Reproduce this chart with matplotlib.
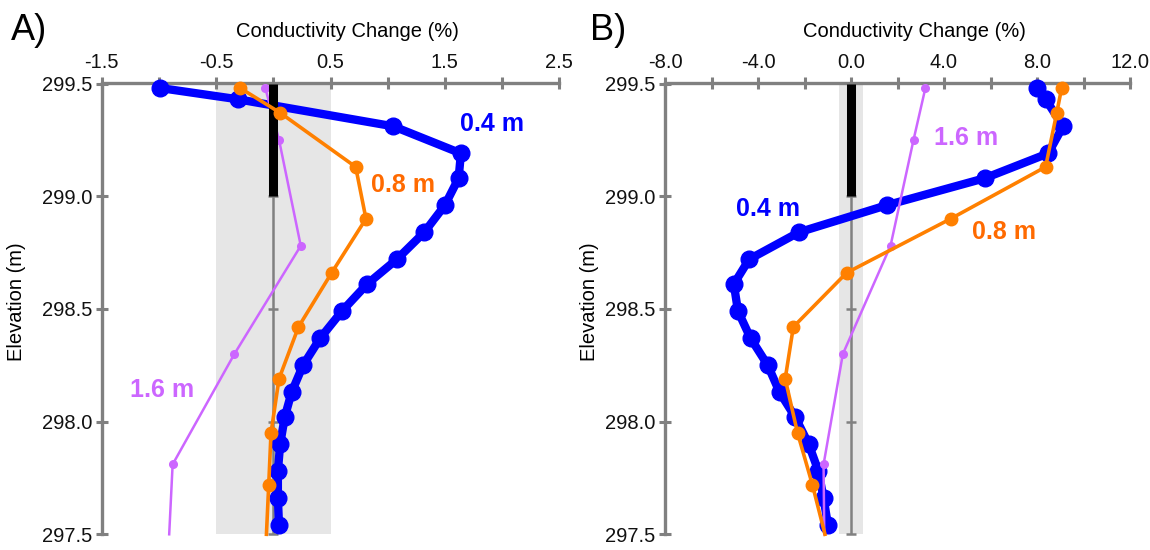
import matplotlib
matplotlib.use('Agg')
import matplotlib.pyplot as plt
from matplotlib.ticker import FixedLocator, NullFormatter
import numpy as np

plt.rcParams['font.family'] = ['Liberation Sans', 'DejaVu Sans']

# ---------------- data ----------------
elev_04 = [299.48, 299.43, 299.31, 299.19, 299.08, 298.96, 298.84, 298.72, 298.61,
           298.49, 298.37, 298.25, 298.13, 298.02, 297.90, 297.78, 297.66, 297.54]
elev_08 = [299.48, 299.37, 299.13, 298.90, 298.66, 298.42, 298.19, 297.95, 297.72, 297.50]
elev_16 = [299.48, 299.25, 298.78, 298.30, 297.81, 297.50]

a_04 = [-0.99, -0.31, 1.05, 1.64, 1.62, 1.50, 1.32, 1.08, 0.82,
        0.60, 0.41, 0.26, 0.16, 0.10, 0.06, 0.04, 0.04, 0.05]
a_08 = [-0.29, 0.06, 0.72, 0.81, 0.51, 0.22, 0.05, -0.02, -0.04, -0.06]
a_16 = [-0.07, 0.05, 0.24, -0.34, -0.88, -0.91]

b_04 = [8.00, 8.37, 9.12, 8.48, 5.76, 1.54, -2.24, -4.38, -5.04,
        -4.86, -4.32, -3.58, -3.07, -2.40, -1.82, -1.40, -1.18, -0.99]
b_08 = [9.06, 8.85, 8.37, 4.29, -0.19, -2.48, -2.83, -2.30, -1.66, -1.12]
b_16 = [3.20, 2.69, 1.70, -0.35, -1.18, -1.15]

a_xticks_major = [-1.5, -0.5, 0.5, 1.5, 2.5]
a_xticks_minor = [-1.0, 0.0, 1.0, 2.0]
a_xlabels = ['-1.5', '-0.5', '0.5', '1.5', '2.5']
b_xticks_major = [-8.0, -4.0, 0.0, 4.0, 8.0, 12.0]
b_xticks_minor = [-6.0, -2.0, 2.0, 6.0, 10.0]
b_xlabels = ['-8.0', '-4.0', '0.0', '4.0', '8.0', '12.0']
yticks = [297.5, 298.0, 298.5, 299.0, 299.5]
ylabels = ['297.5', '298.0', '298.5', '299.0', '299.5']

a_band = [-0.5, 0.5]
b_band = [-0.5, 0.5]
bar_range = [299.0, 299.5]

series_labels = ['0.4 m', '0.8 m', '1.6 m']
a_label_pos = [(1.91, 299.32), (1.13, 299.05), (-0.97, 298.14)]
b_label_pos = [(-3.58, 298.945), (6.56, 298.84), (4.96, 299.26)]

# ---------------- style ----------------
BLUE = '#0000ff'
ORANGE = '#ff8000'
ORANGE_TXT = '#ff6a00'
PURPLE = '#cc66ff'
GRAY = '#808080'

W, H = 1150, 550
fig = plt.figure(figsize=(W / 100, H / 100), dpi=100)


def px(l, t, r, b):
    return [l / W, 1 - b / H, (r - l) / W, (b - t) / H]


def panel(rect, xlim, xmaj, xmin, xlab, band, d04, d08, d16, lpos, letter, letter_x, elev_x):
    ax = fig.add_axes(rect)
    ax.set_xlim(*xlim)
    ax.set_ylim(yticks[0], yticks[-1])
    for s in ['bottom', 'right']:
        ax.spines[s].set_visible(False)
    for s in ['top', 'left']:
        ax.spines[s].set_color(GRAY)
        ax.spines[s].set_linewidth(2.4)
    ax.xaxis.tick_top()
    ax.xaxis.set_major_locator(FixedLocator(xmaj))
    ax.xaxis.set_minor_locator(FixedLocator(xmin))
    ax.xaxis.set_minor_formatter(NullFormatter())
    ax.set_xticklabels(xlab)
    ax.set_yticks(yticks)
    ax.set_yticklabels(ylabels)
    ax.tick_params(axis='both', which='both', direction='inout', length=9, width=2.2,
                   color=GRAY, labelsize=14.5, labelcolor='#111111')
    ax.tick_params(axis='x', which='both', pad=4)
    ax.tick_params(axis='y', which='both', pad=2.5)

    # shaded band and zero line
    ax.axvspan(band[0], band[1], color='#e6e6e6', zorder=0, lw=0)
    ax.axvline(0, color=GRAY, lw=1.8, zorder=1)
    ax.plot(np.zeros(len(yticks) - 1), yticks[:-1], ls='none', marker='_',
            ms=7, mew=1.8, color=GRAY, zorder=1, clip_on=False)

    # series
    ax.plot(d04, elev_04, color=BLUE, lw=6, marker='o', ms=12, zorder=4, clip_on=False,
            solid_joinstyle='round')
    ax.plot(d16, elev_16, color=PURPLE, lw=1.8, marker='o', ms=5.5, zorder=5, clip_on=False,
            markevery=list(range(len(d16) - 1)))
    ax.plot([0, 0], bar_range, color='black', lw=6.5, solid_capstyle='butt', zorder=6,
            clip_on=False)
    ax.plot(d08, elev_08, color=ORANGE, lw=2.6, marker='o', ms=9, zorder=7, clip_on=False,
            markevery=list(range(len(d08) - 1)))

    cols = [BLUE, ORANGE_TXT, PURPLE]
    for lab, (x, y), c in zip(series_labels, lpos, cols):
        ax.text(x, y, lab, color=c, fontsize=18, fontweight='bold', ha='center',
                va='center', zorder=8)

    ax.text(0.536, 1.1154, 'Conductivity Change (%)', transform=ax.transAxes,
            ha='center', va='center', fontsize=14.5)
    fig.text(elev_x / W, 1 - 302 / H, 'Elevation (m)', rotation=90, ha='center',
             va='center', fontsize=14.5)
    fig.text(letter_x / W, 1 - 30 / H, letter, ha='left', va='center', fontsize=26)
    return ax


panel(px(101.7, 83.5, 559.3, 534.3), (-1.5, 2.5), a_xticks_major, a_xticks_minor, a_xlabels,
      a_band, a_04, a_08, a_16, a_label_pos, 'A)', 11, 17)
panel(px(665, 83.5, 1130, 534.3), (-8, 12), b_xticks_major, b_xticks_minor, b_xlabels,
      b_band, b_04, b_08, b_16, b_label_pos, 'B)', 590, 589.5)

fig.savefig('out.png', dpi=100)
